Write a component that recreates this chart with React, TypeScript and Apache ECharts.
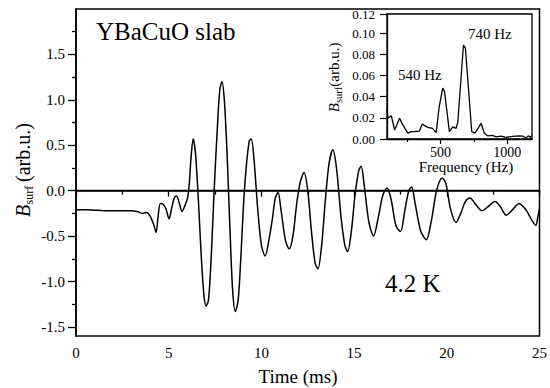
import React, { useEffect, useRef } from "react";
import * as echarts from "echarts";

// Main trace: time (ms) and B_surf (arb.u.)
const timeMs = [
  0, 0.5, 1.0, 1.5, 2.0, 2.5, 3.0, 3.3, 3.6, 3.8, 4.0, 4.2, 4.32, 4.42, 4.55, 4.7, 4.85, 5.02, 5.15, 5.3,
  5.42, 5.55, 5.72, 5.9, 6.02, 6.12, 6.2, 6.32, 6.45, 6.6, 6.75, 6.9, 7.02, 7.15, 7.3, 7.45, 7.6, 7.75, 7.87, 8.0,
  8.15, 8.3, 8.45, 8.6, 8.75, 8.9, 9.05, 9.2, 9.35, 9.45, 9.6, 9.8, 10.0, 10.2, 10.4, 10.6, 10.75, 10.9, 11.05, 11.3,
  11.5, 11.7, 11.9, 12.1, 12.3, 12.5, 12.7, 12.9, 13.05, 13.25, 13.45, 13.65, 13.85, 14.05, 14.3, 14.5, 14.65, 14.85, 15.05, 15.25,
  15.38, 15.55, 15.8, 16.05, 16.3, 16.55, 16.78, 17.0, 17.25, 17.5, 17.75, 17.95, 18.1, 18.3, 18.6, 18.9, 19.15, 19.45, 19.75, 19.95,
  20.2, 20.5, 20.75, 21.0, 21.25, 21.55, 21.9, 22.2, 22.6, 22.9, 23.2, 23.5, 23.9, 24.3, 24.6, 24.8, 24.9, 25.0,
];
const bSurf = [
  -0.21, -0.21, -0.215, -0.22, -0.22, -0.22, -0.22, -0.23, -0.25, -0.24, -0.28, -0.38, -0.46, -0.3, -0.14, -0.15, -0.2, -0.31, -0.2, -0.08,
  -0.06, -0.12, -0.23, -0.15, -0.08, 0.1, 0.35, 0.57, 0.4, -0.1, -0.7, -1.15, -1.27, -1.2, -0.7, 0.0, 0.6, 1.1, 1.2, 1.0,
  0.4, -0.4, -1.1, -1.33, -1.2, -0.7, -0.1, 0.3, 0.55, 0.57, 0.35, -0.2, -0.6, -0.72, -0.55, -0.3, -0.08, -0.02, -0.2, -0.55,
  -0.64, -0.5, -0.15, 0.1, 0.2, 0.0, -0.45, -0.8, -0.86, -0.6, -0.1, 0.3, 0.45, 0.25, -0.3, -0.6, -0.67, -0.45, -0.05, 0.22,
  0.27, 0.05, -0.35, -0.5, -0.3, -0.05, 0.03, -0.1, -0.38, -0.45, -0.2, 0.0, 0.04, -0.15, -0.45, -0.54, -0.35, 0.0, 0.14, 0.08,
  -0.2, -0.35, -0.25, -0.12, -0.08, -0.15, -0.22, -0.18, -0.12, -0.18, -0.27, -0.22, -0.14, -0.22, -0.33, -0.38, -0.3, -0.2,
];

// Inset spectrum: frequency (Hz) and amplitude
const freqHz = [
  100, 107, 132, 157, 194, 215, 256, 281, 306, 343, 363, 405, 440, 468, 490, 517, 530, 567, 592, 617,
  630, 672, 687, 734, 759, 804, 828, 853, 890, 916, 953, 990, 1040, 1090, 1114, 1140, 1160, 1170, 1183,
];
const spectrum = [
  0.029, 0.0195, 0.022, 0.0085, 0.0195, 0.014, 0.0055, 0.007, 0.007, 0.0075, 0.014, 0.011, 0.01, 0.006, 0.03, 0.048, 0.045, 0.007, 0.0115, 0.01,
  0.016, 0.0887, 0.0855, 0.007, 0.0055, 0.0148, 0.0054, 0.003, 0.0035, 0.002, 0.0028, 0.0015, 0.0025, 0.003, 0.0028, 0.001, 0.003, 0.0015, 0.003,
];

const mainYTicks = [-1.5, -1.0, -0.5, 0, 0.5, 1.0, 1.5];
const mainYMinorTicks = [-1.25, -0.75, -0.25, 0.25, 0.75, 1.25, 1.75];
const insetXTicks = [500, 1000];
const insetXMinorTicks = [250, 750];

const SERIF = "Liberation Serif";

const txt = (text: string, size: number, extra: Record<string, unknown> = {}) => ({
  text,
  fontFamily: SERIF,
  fontSize: size,
  fill: "#000",
  verticalAlign: "middle",
  ...extra,
});

export default function App() {
  const ref = useRef<HTMLDivElement>(null);
  useEffect(() => {
    if (!ref.current) return;
    const chart = echarts.init(ref.current, null, { renderer: "svg" });
    const mainData = timeMs.map((t, i) => [t, bSurf[i]]);
    const specData = freqHz.map((f, i) => [f, spectrum[i]]);
    const black = "#000";
    chart.setOption({
      animation: false,
      backgroundColor: "#fff",
      textStyle: { fontFamily: SERIF, color: black },
      grid: [
        { left: 76, top: 9, width: 467, height: 327, show: true, borderColor: black, borderWidth: 1.5, backgroundColor: "transparent" },
        { left: 387, top: 14, width: 145, height: 125, show: true, borderColor: black, borderWidth: 1.3, backgroundColor: "#fff" },
      ],
      xAxis: [
        {
          type: "value", gridIndex: 0, min: 0, max: 25, interval: 5,
          axisLine: { show: true, lineStyle: { color: black, width: 1.5 } },
          axisTick: { show: true, length: 6, lineStyle: { color: black, width: 1.3 } },
          minorTick: { show: true, splitNumber: 2, length: 4, lineStyle: { color: black, width: 1.3 } },
          splitLine: { show: false },
          axisLabel: { fontFamily: SERIF, fontSize: 15, color: black, margin: 9, formatter: (v: number) => String(v) },
        },
        {
          type: "value", gridIndex: 1, min: 100, max: 1185,
          axisLine: { show: true, lineStyle: { color: black, width: 1.3 } },
          axisTick: { show: true, length: 5, customValues: insetXTicks, lineStyle: { color: black, width: 1.2 } },
          splitLine: { show: false },
          axisLabel: { fontFamily: SERIF, fontSize: 14, color: black, margin: 6, customValues: insetXTicks, formatter: (v: number) => String(v) },
        },
        {
          type: "value", gridIndex: 1, min: 100, max: 1185, position: "bottom",
          axisLine: { show: false },
          axisTick: { show: true, length: 3, customValues: insetXMinorTicks, lineStyle: { color: black, width: 1.2 } },
          splitLine: { show: false },
          axisLabel: { show: false },
        },
      ],
      yAxis: [
        {
          type: "value", gridIndex: 0, min: -1.6, max: 2.0,
          axisLine: { show: true, lineStyle: { color: black, width: 1.5 } },
          axisTick: { show: true, length: 8, customValues: mainYTicks, lineStyle: { color: black, width: 1.3 } },
          splitLine: { show: false },
          axisLabel: {
            fontFamily: SERIF, fontSize: 15, color: black, margin: 11, customValues: mainYTicks,
            formatter: (v: number) => v.toFixed(1),
          },
        },
        {
          type: "value", gridIndex: 0, min: -1.6, max: 2.0, position: "left",
          axisLine: { show: false },
          axisTick: { show: true, length: 4, customValues: mainYMinorTicks, lineStyle: { color: black, width: 1.3 } },
          splitLine: { show: false },
          axisLabel: { show: false },
        },
        {
          type: "value", gridIndex: 1, min: 0, max: 0.118, interval: 0.02,
          axisLine: { show: true, lineStyle: { color: black, width: 1.3 } },
          axisTick: { show: true, length: 7, lineStyle: { color: black, width: 1.2 } },
          splitLine: { show: false },
          axisLabel: {
            fontFamily: SERIF, fontSize: 13, color: black, margin: 12,
            formatter: (v: number) => v.toFixed(2),
          },
        },
      ],
      series: [
        {
          type: "line", xAxisIndex: 0, yAxisIndex: 0, data: mainData, smooth: 0.3,
          symbol: "none", lineStyle: { color: black, width: 1.5 },
          markLine: {
            silent: true, symbol: ["none", "none"], label: { show: false },
            lineStyle: { color: black, width: 1.4, type: "solid" },
            data: [{ yAxis: 0 }],
          },
        },
        {
          type: "line", xAxisIndex: 1, yAxisIndex: 2, data: specData, smooth: false,
          symbol: "none", lineStyle: { color: black, width: 1.3 },
        },
      ],
      graphic: [
        { type: "text", x: 96, y: 31, style: txt("YBaCuO slab", 25) },
        { type: "text", x: 385, y: 283, style: txt("4.2 K", 25) },
        { type: "text", x: 298, y: 376, style: txt("Time (ms)", 19, { align: "center" }) },
        { type: "text", x: 466, y: 167, style: txt("Frequency (Hz)", 15, { align: "center" }) },
        { type: "text", x: 398, y: 75, style: txt("540 Hz", 15) },
        { type: "text", x: 468, y: 34, style: txt("740 Hz", 15) },
        {
          type: "group", x: 23, y: 170, rotation: Math.PI / 2,
          children: [
            { type: "text", x: -47, y: 0, style: txt("B", 20, { fontStyle: "italic" }) },
            { type: "text", x: -34.5, y: 6, style: txt("surf", 12) },
            { type: "text", x: -12, y: 0, style: txt("(arb.u.)", 20) },
          ],
        },
        {
          type: "group", x: 334, y: 77.5, rotation: Math.PI / 2,
          children: [
            { type: "text", x: -34.75, y: 0, style: txt("B", 15, { fontStyle: "italic" }) },
            { type: "text", x: -25.5, y: 4.5, style: txt("surf", 10.5) },
            { type: "text", x: -9.2, y: 0, style: txt("(arb.u.)", 15) },
          ],
        },
      ],
    });
    return () => chart.dispose();
  }, []);
  return <div ref={ref} style={{ position: "absolute", left: 0, top: 0, width: 550, height: 388 }} />;
}
